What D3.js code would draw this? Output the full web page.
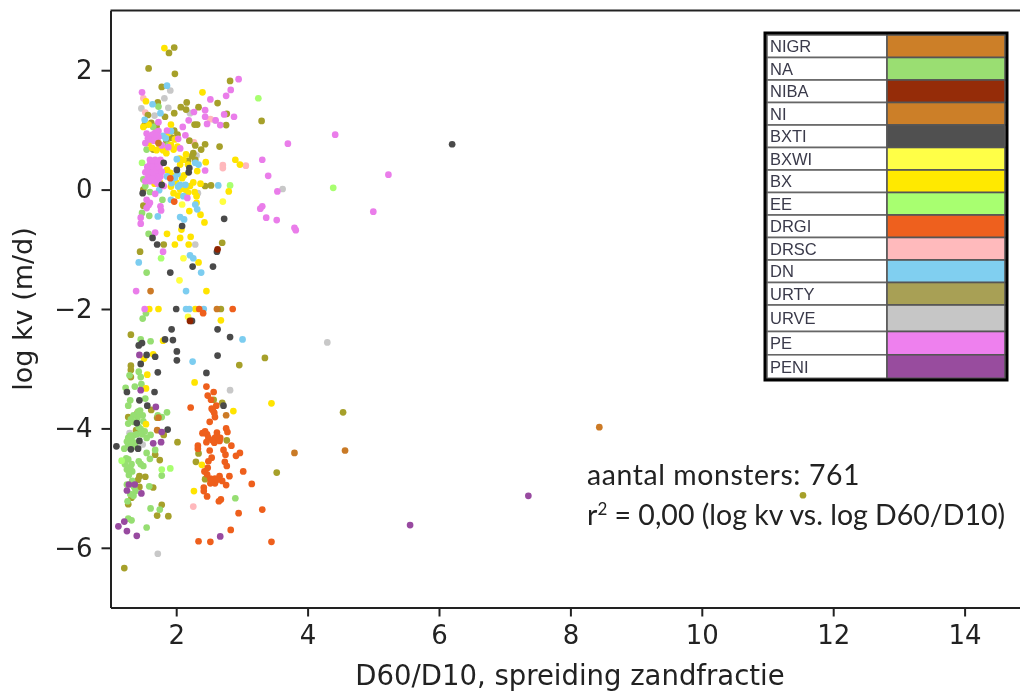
<!DOCTYPE html>
<html><head><meta charset="utf-8">
<script src="https://cdn.jsdelivr.net/npm/d3@7"></script>
<style>html,body{margin:0;padding:0;background:#fff;overflow:hidden}svg{display:block;filter:blur(.5px)}</style>
</head><body><svg id="c" width="1020" height="693"></svg>
<script>
const legendNames = ["NIGR","NA","NIBA","NI","BXTI","BXWI","BX","EE","DRGI","DRSC","DN","URTY","URVE","PE","PENI"];
const legendColors = ["#cc7f28","#9ade72","#952c08","#cc7f28","#505050","#ffff47","#ffe900","#a8ff70","#ee601e","#ffbabc","#80cff0","#a8a055","#c6c6c6","#ee80ee","#984c9e"];
const markColors = {NIGR:"#cc7a26",NA:"#96de72",NIBA:"#8f2400",NI:"#c97a26",BXTI:"#4a4a4a",BXWI:"#ffff40",BX:"#ffe400",EE:"#a8ff70",DRGI:"#ee5f1c",DRSC:"#ffb8bc",DN:"#7ccdf0",URTY:"#a6a02a",URVE:"#c8c8c8",PE:"#ea7dea",PENI:"#984aa0"};
const drawOrder = ["URVE","DRSC","URTY","NA","EE","BX","BXWI","DN","PE","BXTI","DRGI","NIGR","NI","NIBA","PENI"];
const xTicks = [2,4,6,8,10,12,14];
const yTicks = [2,0,-2,-4,-6];
const rowHeights = [22.5,22.5,22.5,22.5,22.5,22.5,22.5,22.5,22.5,22.5,22.5,22.5,26.5,23.3,23.5];

const NIGR = [[1.61,-1.70],[2.62,-2.0],[2.76,-3.78],[8.44,-3.98],[1.73,-3.82]];
const NI = [[1.73,0.78],[3.80,-4.41],[4.57,-4.37],[1.71,-4.03]];
const NIBA = [[2.63,-1.0],[2.21,-2.2]];
const URTY = [[1.97,2.38],[1.89,2.29],[1.58,2.03],[1.98,1.94],[1.78,1.72],[2.82,1.82],[1.72,1.46],[2.16,1.46],[2.63,1.45],[2.07,1.38],[2.15,1.34],[2.34,1.38],[1.57,1.25],[1.97,1.28],[1.83,1.22],[2.77,1.27],[2.28,1.09],[2.32,1.09],[2.76,1.08],[3.30,1.15],[1.97,0.99],[2.20,0.82],[2.29,0.74],[2.44,0.76],[2.38,0.67],[2.66,0.72],[2.26,0.61],[2.29,0.50],[2.44,0.06],[2.53,0.07],[1.50,0.0],[1.50,-0.27],[2.70,-0.89],[1.81,-0.92],[1.45,-1.04],[1.93,0.87],[1.70,1.06],[1.65,0.67],[2.68,-2.0],[1.31,-2.43],[3.35,-2.82],[2.96,-2.94],[1.31,-2.95],[1.31,-3.02],[1.31,-3.14],[1.27,-3.81],[1.71,-3.82],[1.62,-3.69],[2.70,-3.57],[1.41,-3.74],[1.81,-4.11],[1.39,-4.03],[2.02,-4.23],[2.77,-4.20],[1.68,-4.44],[1.75,-4.53],[2.34,-4.42],[2.30,-4.56],[1.44,-4.80],[1.42,-4.86],[1.53,-4.81],[2.44,-4.85],[1.65,-4.99],[1.44,-4.98],[1.32,-5.16],[1.27,-5.27],[1.78,-5.28],[1.71,-5.46],[1.88,-5.47],[3.53,-4.74],[1.21,-6.34],[2.57,-3.52],[4.54,-3.73],[11.54,-5.12],[1.52,1.08],[1.62,1.12],[2.18,0.48],[2.24,0.56],[1.85,0.82],[2.02,0.92]];
const BXTI = [[2.73,-0.49],[2.09,-0.61],[1.64,-0.81],[1.71,-0.92],[2.62,-1.04],[2.25,-1.29],[2.56,-1.29],[1.91,-1.39],[1.49,-0.06],[2.01,0.33],[2.19,0.29],[2.20,0.36],[1.81,0.45],[1.78,0.08],[6.2,0.76],[2.0,-2.0],[2.24,-2.2],[1.93,-2.34],[2.63,-2.34],[2.82,-2.47],[1.83,-2.51],[1.95,-2.52],[1.48,-2.57],[1.43,-2.61],[2.01,-2.71],[1.55,-2.77],[1.68,-2.80],[2.63,-2.78],[2.01,-2.86],[1.46,-2.92],[1.72,-3.06],[2.46,-3.07],[1.25,-3.39],[1.67,-3.39],[1.44,-3.53],[1.56,-3.62],[2.72,-3.62],[1.40,-3.91],[1.87,-4.02],[1.44,-4.21],[1.09,-4.30],[1.31,-4.35],[1.42,-4.34]];
const BXWI = [[2.71,-0.20],[2.11,-1.15],[2.05,-1.52],[2.09,-0.25],[2.18,-2.13]];
const BX = [[1.82,2.37],[2.40,1.63],[1.54,1.48],[1.50,1.05],[1.58,1.09],[1.92,1.09],[1.88,0.95],[1.98,0.84],[1.63,0.70],[1.70,0.66],[1.85,0.61],[1.96,0.67],[2.15,0.59],[2.11,0.50],[2.06,0.42],[2.45,0.46],[2.90,0.50],[2.97,0.42],[1.86,0.33],[1.91,0.28],[1.96,0.22],[2.32,0.31],[2.09,0.19],[2.26,0.12],[2.37,0.10],[1.67,0.10],[2.21,0.06],[2.06,0],[1.96,-0.06],[2.80,-0.03],[2.31,-0.11],[2.20,-0.36],[2.37,-0.42],[2.43,-0.55],[2.08,-0.67],[1.86,-0.74],[2.22,-0.79],[2.06,-0.81],[1.98,-0.92],[2.19,-0.92],[2.34,-1.22],[2.46,-1.70],[2.31,-0.22],[1.59,-2.0],[1.73,-2.0],[2.29,-2.0],[2.68,-2.19],[1.80,-2.53],[1.65,-2.76],[1.51,-2.83],[1.56,-3.10],[2.28,-3.23],[1.54,-3.33],[3.45,-3.58],[2.87,-3.71],[1.54,-3.93],[2.39,-4.61],[2.27,-5.05],[1.75,0.72],[1.92,0.75],[2.02,0.72],[1.80,0.66],[2.05,0.52],[2.18,0.42],[2.12,0.24],[2.0,0.12],[1.92,0.05],[2.14,0.0],[2.03,-0.1],[2.18,-0.05],[2.28,-0.04],[1.75,0.12],[1.58,0.78],[1.66,0.85]];
const EE = [[3.25,1.53],[1.48,0.45],[2.82,0.07],[1.77,-1.15],[4.39,0.03],[1.78,-4.69],[1.91,-4.67],[1.17,-4.54]];
const NA = [[1.73,1.39],[1.55,0.67],[1.65,1.05],[1.88,0.75],[1.50,0.17],[1.53,0.06],[1.60,-0.04],[1.79,-0.17],[1.48,-0.39],[1.59,-0.44],[1.58,-0.74],[1.55,-1.39],[1.49,-2.16],[1.54,-2.07],[1.46,-2.51],[1.61,-2.54],[1.43,-3.05],[1.29,-3.11],[1.46,-3.14],[1.37,-3.30],[1.23,-3.32],[1.47,-3.26],[1.53,-3.50],[1.30,-3.53],[1.27,-3.62],[1.45,-3.70],[1.49,-3.78],[1.86,-3.73],[1.78,-3.81],[1.41,-3.82],[1.50,-3.88],[1.27,-3.92],[1.35,-3.89],[1.46,-4.01],[1.48,-4.10],[1.61,-4.11],[1.55,-4.16],[1.27,-4.16],[1.32,-4.19],[1.27,-4.27],[1.38,-4.24],[1.21,-4.34],[1.55,-4.41],[1.68,-4.36],[1.60,-4.51],[1.27,-4.52],[1.22,-4.60],[1.32,-4.60],[1.25,-4.69],[1.43,-4.55],[1.50,-4.63],[1.33,-4.72],[1.78,-4.79],[1.33,-4.88],[1.25,-4.94],[1.59,-4.97],[1.38,-5.05],[1.35,-5.13],[1.26,-5.22],[2.90,-5.17],[1.61,-5.34],[1.75,-5.36],[1.27,-5.51],[1.32,-5.54],[1.55,-5.66],[1.30,-4.12],[1.35,-4.12],[1.32,-4.26],[1.40,-4.10],[1.43,-3.98],[1.42,-3.72],[1.35,-3.78],[1.31,-3.85],[1.25,-4.22],[1.37,-4.30],[1.24,-4.50],[1.30,-4.66],[1.46,-4.60],[1.28,-4.78],[1.36,-4.98],[1.30,-5.10],[1.72,-3.78],[1.52,-4.05]];
const DRGI = [[1.97,-0.20],[1.91,0.19],[2.35,-2.0],[2.86,-2.0],[2.41,-2.07],[2.46,-3.30],[2.57,-3.39],[2.48,-3.45],[2.53,-3.52],[2.22,-3.65],[2.61,-3.62],[2.54,-3.67],[2.58,-3.74],[2.59,-3.81],[2.51,-3.89],[2.76,-4.0],[2.78,-4.06],[2.40,-4.08],[2.47,-4.10],[2.62,-4.07],[2.49,-4.16],[2.59,-4.16],[2.67,-4.16],[2.46,-4.23],[2.58,-4.24],[2.66,-4.21],[2.84,-4.29],[2.33,-4.29],[2.33,-4.34],[2.51,-4.37],[2.72,-4.36],[2.75,-4.44],[2.97,-4.41],[2.91,-4.46],[2.54,-4.49],[2.49,-4.55],[2.74,-4.56],[2.77,-4.63],[2.48,-4.66],[2.43,-4.72],[3.02,-4.72],[2.47,-4.77],[2.81,-4.80],[2.66,-4.80],[2.52,-4.84],[2.59,-4.84],[2.70,-4.88],[2.52,-4.92],[2.59,-4.92],[2.76,-4.95],[3.15,-4.93],[2.42,-4.99],[2.42,-5.05],[2.47,-5.14],[2.68,-5.19],[2.65,-5.22],[3.31,-5.36],[2.95,-5.42],[2.83,-5.70],[2.34,-5.89],[2.52,-5.90],[3.45,-5.90],[2.55,-4.88],[2.62,-4.86],[2.62,-4.12],[2.55,-4.20],[2.44,-4.05],[2.56,-3.70]];
const DRSC = [[1.50,1.53],[1.53,1.29],[2.71,0.41],[2.71,0.36],[3.06,0.40],[2.52,1.18],[2.27,0.79],[2.26,-5.31]];
const DN = [[1.86,1.74],[1.64,1.43],[1.76,1.28],[1.52,1.17],[1.80,0.90],[1.92,0.98],[2.01,0.51],[2.34,0.42],[2.29,0.45],[1.86,0.22],[1.93,0.11],[2.06,0.08],[2.14,0.08],[2.64,0.07],[1.74,-0.01],[2.03,0.05],[2.11,-0.11],[2.29,-0.25],[2.32,-0.33],[1.72,-0.45],[2.06,-0.46],[2.12,-0.50],[2.21,-1.10],[2.26,-1.15],[1.43,-1.22],[2.38,-1.39],[2.15,-1.70],[1.92,-0.17],[2.15,-2.0],[2.2,-2.0],[2.42,-2.0],[3.01,-2.51],[2.25,-2.88],[1.84,0.86],[1.98,0.20],[2.02,0.26]];
const URVE = [[1.91,1.66],[1.82,1.53],[1.47,1.36],[1.88,1.37],[1.67,1.24],[2.21,1.28],[2.59,1.16],[2.31,0.57],[2.33,-0.06],[3.62,0.01],[2.29,-0.92],[2.82,-3.36],[1.72,-6.10],[1.49,-4.27],[1.29,-4.08],[4.3,-2.56]];
const PE = [[2.95,1.85],[2.83,1.67],[2.76,1.57],[2.52,1.51],[1.48,1.63],[2.27,1.30],[2.44,1.33],[2.73,1.26],[2.88,1.22],[2.44,1.22],[2.19,1.16],[2.47,1.10],[2.60,1.16],[2.67,1.08],[1.73,1.13],[2.10,1.05],[1.86,0.99],[2.14,0.91],[2.03,0.85],[3.70,0.77],[1.53,0.78],[1.60,0.89],[1.68,0.95],[1.73,0.98],[1.60,0.84],[1.68,0.865],[1.78,0.74],[1.88,0.71],[2.06,0.69],[3.31,0.50],[3.40,0.23],[3.54,-0.03],[3.31,-0.28],[3.28,-0.32],[3.37,-0.47],[3.53,-0.51],[3.80,-0.64],[3.82,-0.68],[1.60,0.50],[1.68,0.50],[1.76,0.50],[1.60,0.42],[1.68,0.42],[1.76,0.42],[1.60,0.335],[1.68,0.335],[1.53,0.29],[1.60,0.22],[1.68,0.22],[1.73,0.28],[1.53,0.14],[1.60,0.14],[1.68,0.14],[2.44,0.32],[1.81,0.06],[1.68,-0.07],[2.17,-0.14],[1.55,-0.17],[1.60,-0.22],[1.55,-0.31],[1.76,-0.28],[1.77,-0.35],[1.46,-0.47],[1.46,-0.57],[1.68,-0.72],[1.80,-1.04],[1.39,-1.70],[1.52,-2.0],[4.42,0.92],[5.23,0.25],[5.0,-0.37],[1.64,0.46],[1.72,0.46],[1.64,0.38],[1.72,0.38],[1.56,0.38],[1.56,0.30],[1.64,0.28],[1.70,0.33],[1.57,0.20],[1.64,0.18],[1.64,0.92],[1.57,0.86],[1.70,0.9],[1.58,-0.26],[1.74,0.36],[1.76,0.22],[1.73,0.16],[1.72,0.10],[1.78,0.30],[1.55,0.94],[1.73,0.88],[1.66,0.82]];
const PENI = [[1.44,-2.77],[1.46,-3.36],[1.69,-3.64],[1.78,-4.06],[1.65,-4.25],[1.77,-4.23],[1.28,-4.94],[1.37,-4.94],[1.25,-5.04],[1.47,-5.09],[1.21,-5.56],[1.12,-5.64],[1.25,-5.72],[1.40,-5.80],[2.67,-5.81],[7.36,-5.13],[5.56,-5.62]];
const seriesData = {NIGR,NA,NIBA,NI,BXTI,BXWI,BX,EE,DRGI,DRSC,DN,URTY,URVE,PE,PENI};

const ink = "#222";
const svg = d3.select("#c");
const x = d3.scaleLinear().domain([1,15]).range([110.5,1030.3]);
const y = d3.scaleLinear().domain([-7,3]).range([607.5,10.5]);
const tickFont = "DejaVu Sans, sans-serif";

for (const name of drawOrder) {
  svg.append("g").selectAll("circle").data(seriesData[name]).join("circle")
    .attr("cx", d => x(d[0])).attr("cy", d => y(d[1])).attr("r", 3.35)
    .attr("fill", markColors[name]);
}

const fmt = d => String(d).replace("-", "\u2212");
const gx = svg.append("g").attr("transform", `translate(0,${y.range()[0]})`)
  .call(d3.axisBottom(x).tickValues(xTicks).tickFormat(fmt).tickSizeInner(9).tickSizeOuter(0).tickPadding(9));
const gy = svg.append("g").attr("transform", `translate(${x.range()[0]},0)`)
  .call(d3.axisLeft(y).tickValues(yTicks).tickFormat(fmt).tickSizeInner(9).tickSizeOuter(0).tickPadding(9));
for (const g of [gx,gy]) {
  g.selectAll("line").attr("stroke",ink).attr("stroke-width",2);
  g.select(".domain").attr("stroke",ink).attr("stroke-width",2);
  g.selectAll("text").attr("fill",ink).style("font-family",tickFont).style("font-size","26px");
}
svg.append("line").attr("x1",x.range()[0]).attr("x2",1020).attr("y1",y.range()[1]).attr("y2",y.range()[1]).attr("stroke",ink).attr("stroke-width",2);

svg.append("text").attr("x",570).attr("y",685).attr("text-anchor","middle").attr("fill",ink)
  .style("font-family",tickFont).style("font-size","27.5px").text("D60/D10, spreiding zandfractie");
svg.append("text").attr("transform","translate(32,309) rotate(-90)").attr("text-anchor","middle").attr("fill",ink)
  .style("font-family",tickFont).style("font-size","27px").text("log kv (m/d)");

const noteFont = "Lato, 'Open Sans', sans-serif";
svg.append("text").attr("x",587).attr("y",485).attr("fill",ink).style("font-family",noteFont).style("font-size","28.4px").style("letter-spacing","0.6px").text("aantal monsters: 761");
const n2 = svg.append("text").attr("x",587).attr("y",525).attr("fill",ink).style("font-family",noteFont).style("font-size","28.5px");
n2.append("tspan").text("r");
n2.append("tspan").attr("dy",-10).style("font-size","17px").text("2");
n2.append("tspan").attr("dy",10).text(" = 0,00 (log kv vs. log D60/D10)");

const legend = svg.append("g");
const legX0 = 767, legDiv = 887, legX1 = 1005, legY0 = 35;
let yy = legY0;
legendNames.forEach((nm,i) => {
  const h = rowHeights[i];
  legend.append("rect").attr("x",legX0).attr("y",yy).attr("width",legDiv-legX0).attr("height",h).attr("fill","#fff").attr("stroke","#666").attr("stroke-width",1.6);
  legend.append("rect").attr("x",legDiv).attr("y",yy).attr("width",legX1-legDiv).attr("height",h).attr("fill",legendColors[i]).attr("stroke","#555").attr("stroke-width",1.6);
  legend.append("text").attr("x",770).attr("y",yy+h/2+6).attr("fill","#3a3a4a").style("font-family","Liberation Sans, Arial, sans-serif").style("font-size","16.5px").text(nm);
  yy += h;
});
legend.append("rect").attr("x",765).attr("y",33).attr("width",242).attr("height",347).attr("fill","none").attr("stroke","#000").attr("stroke-width",3);
</script></body></html>
